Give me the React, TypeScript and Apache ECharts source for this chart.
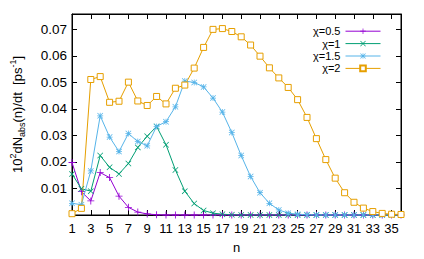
import React, { useEffect, useRef } from 'react';
import * as echarts from 'echarts';

const nValues = [1, 2, 3, 4, 5, 6, 7, 8, 9, 10, 11, 12, 13, 14, 15, 16, 17, 18, 19, 20, 21, 22, 23, 24, 25, 26, 27, 28, 29, 30, 31, 32, 33, 34, 35, 36];

const chi05 = [0.0198, 0.0088, 0.0053, 0.016, 0.0141, 0.0071, 0.0029, 0.0011, 0.0004, 0.0001, 0, 0, 0, 0, 0, 0, 0, 0, 0, 0, 0, 0, 0, 0, 0, 0, 0, 0, 0, 0, 0, 0, 0, 0, 0, 0];
const chi1 = [0.0155, 0.0099, 0.009, 0.0224, 0.018, 0.0155, 0.0194, 0.0255, 0.0297, 0.0334, 0.0265, 0.017, 0.009, 0.0043, 0.0017, 0.0007, 0.0003, 0.0001, 0, 0, 0, 0, 0, 0, 0, 0, 0, 0, 0, 0, 0, 0, 0, 0, 0, 0];
const chi15 = [0.0044, 0.0039, 0.0166, 0.0374, 0.0294, 0.0239, 0.0307, 0.0277, 0.0261, 0.0334, 0.0352, 0.0408, 0.0505, 0.05, 0.0483, 0.0441, 0.0388, 0.0311, 0.0224, 0.0145, 0.0084, 0.0044, 0.0019, 0.0007, 0.0003, 0.0001, 0, 0, 0, 0, 0, 0, 0, 0, 0, 0];
const chi2 = [0.0005, 0.0025, 0.0511, 0.0522, 0.0425, 0.0429, 0.0501, 0.043, 0.0413, 0.0447, 0.0419, 0.0478, 0.049, 0.0554, 0.0632, 0.07, 0.0703, 0.0692, 0.0672, 0.0641, 0.0599, 0.0555, 0.0517, 0.0481, 0.0435, 0.0368, 0.0288, 0.0209, 0.0139, 0.0084, 0.0048, 0.0026, 0.0013, 0.0006, 0.0003, 0.0002];

const seriesNames = ['χ=0.5', 'χ=1', 'χ=1.5', 'χ=2'];
const seriesColors = ['#9400d3', '#009e73', '#56b4e9', '#e69f00'];

const X_MIN = 1;
const X_MAX = 36;
const X_STEP = 2;
const Y_MIN = 0;
const Y_MAX = 0.0758;
const Y_STEP = 0.01;

const PLUS = 'path://M0,4.4H10V5.6H0ZM4.4,0H5.6V10H4.4Z';
const CROSS = 'path://M0.85,0L5,4.15L9.15,0L10,0.85L5.85,5L10,9.15L9.15,10L5,5.85L0.85,10L0,9.15L4.15,5L0,0.85Z';
const STAR = 'path://M0,4.4H10V5.6H0ZM4.4,0H5.6V10H4.4ZM0.85,0L5,4.15L9.15,0L10,0.85L5.85,5L10,9.15L9.15,10L5,5.85L0.85,10L0,9.15L4.15,5L0,0.85Z';

const FONT = 'Liberation Sans, Arial, sans-serif';

function pairs(ys: number[]) {
  return nValues.map((n, i) => [n, ys[i]]);
}

export default function App() {
  const ref = useRef<HTMLDivElement>(null);
  useEffect(() => {
    const chart = echarts.init(ref.current!, null, { renderer: 'svg' });
    const axisCommon = {
      axisLine: { show: true, onZero: false, lineStyle: { color: '#000', width: 1 } },
      axisTick: { show: true, inside: true, length: 5, lineStyle: { color: '#000', width: 1 } },
      splitLine: { show: false },
    };
    const symbols = [PLUS, CROSS, STAR, 'rect'];
    const sizes = [7, 6, 6, 6];
    const datas = [chi05, chi1, chi15, chi2];
    const option: any = {
      animation: false,
      textStyle: { fontFamily: FONT },
      grid: { left: 58, right: 23, top: 14, bottom: 38, show: true, borderColor: '#000', borderWidth: 1 },
      legend: {
        orient: 'vertical',
        right: 38,
        top: 20,
        align: 'right',
        itemWidth: 35,
        itemHeight: 7,
        itemGap: 0,
        lineStyle: { width: 1 },
        textStyle: { fontFamily: FONT, fontSize: 11, color: '#000', lineHeight: 12.4 },
        data: seriesNames,
      },
      xAxis: [
        {
          ...axisCommon,
          type: 'value',
          min: X_MIN,
          max: X_MAX,
          interval: X_STEP,
          name: 'n',
          nameLocation: 'middle',
          nameGap: 26,
          nameTextStyle: { fontFamily: FONT, fontSize: 13, color: '#000' },
          axisLabel: {
            fontFamily: FONT,
            fontSize: 13,
            color: '#000',
            margin: 7,
            formatter: (v: number) => (Math.round(v) % 2 === 1 ? String(v) : ''),
          },
        },
        {
          ...axisCommon,
          type: 'value',
          position: 'top',
          min: X_MIN,
          max: X_MAX,
          interval: X_STEP,
          axisLabel: { show: false },
        },
      ],
      yAxis: [
        {
          ...axisCommon,
          type: 'value',
          min: Y_MIN,
          max: Y_MAX,
          interval: Y_STEP,
          name: '{n|10}{sup|2}{n|dN}{sub|abs}{n|(n)/dt  [ps}{sup|-1}{n|]}',
          nameLocation: 'middle',
          nameRotate: 90,
          nameGap: 46,
          nameTextStyle: {
            fontFamily: FONT,
            color: '#000',
            rich: {
              n: { fontSize: 13, fontFamily: FONT, color: '#000', lineHeight: 18, verticalAlign: 'middle' },
              sup: { fontSize: 9, fontFamily: FONT, color: '#000', lineHeight: 18, verticalAlign: 'top', padding: [0, 0, 6, 0] },
              sub: { fontSize: 9, fontFamily: FONT, color: '#000', lineHeight: 18, verticalAlign: 'bottom', padding: [6, 0, 0, 0] },
            },
          },
          axisLabel: {
            fontFamily: FONT,
            fontSize: 13.5,
            color: '#000',
            margin: 5,
            formatter: (v: number) => {
              const k = v * 100;
              if (v <= 0 || Math.abs(k - Math.round(k)) > 1e-6) return '';
              return v.toFixed(2);
            },
          },
        },
        {
          ...axisCommon,
          type: 'value',
          position: 'right',
          min: Y_MIN,
          max: Y_MAX,
          interval: Y_STEP,
          axisLabel: { show: false },
        },
      ],
      series: seriesNames.map((name, i) => ({
        name,
        type: 'line',
        xAxisIndex: 0,
        yAxisIndex: 0,
        data: pairs(datas[i]),
        symbol: symbols[i],
        symbolSize: sizes[i],
        showAllSymbol: true,
        clip: false,
        lineStyle: { color: seriesColors[i], width: 1 },
        itemStyle:
          i === 3
            ? { color: '#fff', borderColor: seriesColors[i], borderWidth: 1 }
            : { color: seriesColors[i], borderWidth: 0 },
        emphasis: { disabled: true },
      })),
    };
    chart.setOption(option);
    return () => chart.dispose();
  }, []);
  return (
    <div
      ref={ref}
      style={{ position: 'absolute', left: 0, top: 0, width: 424, height: 259, background: '#fff' }}
    />
  );
}
